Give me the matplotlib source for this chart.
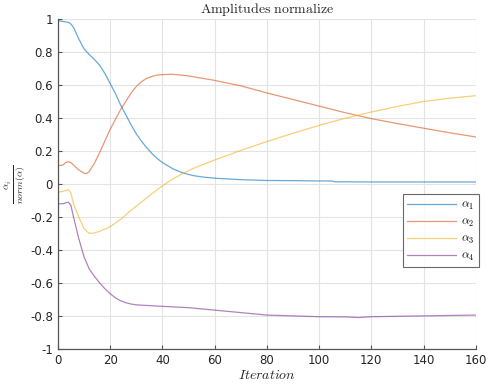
import matplotlib
matplotlib.use("Agg")
import matplotlib.pyplot as plt

plt.rcParams['mathtext.fontset'] = 'cm'
plt.rcParams['axes.unicode_minus'] = False
plt.rcParams['font.family'] = ['DejaVu Sans']

it1 = [0, 2, 4, 5, 6, 8, 10, 12, 14, 16, 18, 20, 22, 24, 26, 28, 30, 32, 34, 36, 38, 40, 44, 48, 52, 56, 60, 70, 80, 90, 100, 105, 106, 120, 140, 160]
a1 = [0.99, 0.985, 0.98, 0.97, 0.95, 0.88, 0.82, 0.785, 0.755, 0.72, 0.67, 0.61, 0.55, 0.48, 0.42, 0.36, 0.305, 0.26, 0.22, 0.185, 0.155, 0.13, 0.092, 0.066, 0.05, 0.041, 0.035, 0.026, 0.021, 0.02, 0.018, 0.018, 0.013, 0.012, 0.012, 0.012]

it2 = [0, 2, 3, 4, 5, 6, 8, 10, 11, 12, 14, 16, 18, 20, 22, 24, 26, 28, 30, 32, 34, 36, 38, 40, 44, 50, 60, 70, 80, 90, 100, 110, 120, 130, 140, 150, 160]
a2 = [0.11, 0.115, 0.13, 0.135, 0.13, 0.115, 0.085, 0.065, 0.063, 0.075, 0.125, 0.19, 0.26, 0.33, 0.39, 0.45, 0.5, 0.55, 0.59, 0.62, 0.64, 0.652, 0.66, 0.663, 0.665, 0.655, 0.628, 0.595, 0.552, 0.512, 0.472, 0.432, 0.396, 0.366, 0.338, 0.31, 0.285]

it3 = [0, 2, 4, 5, 6, 8, 10, 12, 14, 16, 20, 24, 28, 32, 36, 40, 44, 48, 52, 56, 60, 70, 80, 90, 100, 110, 120, 130, 140, 150, 160]
a3 = [-0.05, -0.045, -0.035, -0.055, -0.12, -0.2, -0.27, -0.3, -0.297, -0.287, -0.26, -0.215, -0.16, -0.11, -0.06, -0.012, 0.03, 0.065, 0.095, 0.12, 0.145, 0.203, 0.257, 0.307, 0.355, 0.398, 0.436, 0.47, 0.5, 0.52, 0.535]

it4 = [0, 2, 3, 4, 5, 6, 8, 10, 12, 14, 16, 18, 20, 22, 24, 26, 28, 30, 40, 50, 60, 70, 80, 90, 100, 110, 115, 120, 140, 160]
a4 = [-0.12, -0.12, -0.115, -0.11, -0.13, -0.2, -0.33, -0.44, -0.515, -0.56, -0.6, -0.635, -0.665, -0.69, -0.708, -0.72, -0.728, -0.733, -0.742, -0.75, -0.765, -0.78, -0.795, -0.8, -0.805, -0.806, -0.81, -0.805, -0.8, -0.795]

labels = [r'$\alpha_1$', r'$\alpha_2$', r'$\alpha_3$', r'$\alpha_4$']
colors = ['#0072BD', '#D95319', '#EDB120', '#7E2F8E']

xticks = [0, 20, 40, 60, 80, 100, 120, 140, 160]
yticks = [-1, -0.8, -0.6, -0.4, -0.2, 0, 0.2, 0.4, 0.6, 0.8, 1]
yticklabels = ['-1', '-0.8', '-0.6', '-0.4', '-0.2', '0', '0.2', '0.4', '0.6', '0.8', '1']

fig = plt.figure(figsize=(4.9, 3.92), dpi=100)
ax = fig.add_axes([0.118, 0.11, 0.853, 0.8415])

for x, y, lab, c in zip([it1, it2, it3, it4], [a1, a2, a3, a4], labels, colors):
    ax.plot(x, y, color=c, lw=0.9, alpha=0.6, label=lab)

ax.set_xlim(0, 160)
ax.set_ylim(-1, 1)
ax.set_xticks(xticks)
ax.set_yticks(yticks)
ax.set_yticklabels(yticklabels)
ax.grid(True, color='#e3e3e3', lw=0.8)
ax.set_axisbelow(True)
for s in ['top', 'right']:
    ax.spines[s].set_visible(False)
for s in ['left', 'bottom']:
    ax.spines[s].set_color('#555555')
    ax.spines[s].set_linewidth(0.9)
ax.tick_params(direction='in', length=3, colors='#555555', labelcolor='#262626', labelsize=8.5, width=0.8)

ax.set_title(r'$\mathrm{Amplitudes\ normalize}$', fontsize=10, color='#262626', pad=4)
ax.set_xlabel(r'$Iteration$', fontsize=10, color='#262626', labelpad=1)
ax.set_ylabel(r'$\frac{\alpha_i}{norm(\alpha)}$', fontsize=10, color='#262626', labelpad=2)

leg = ax.legend(loc='upper left', bbox_to_anchor=(0.825, 0.47), fontsize=8.5, frameon=True,
                fancybox=False, edgecolor='#444444', handlelength=4.2, handletextpad=0.4,
                borderpad=0.35, labelspacing=0.25, borderaxespad=0)
leg.get_frame().set_linewidth(0.8)

fig.savefig('out.png', dpi=100)
